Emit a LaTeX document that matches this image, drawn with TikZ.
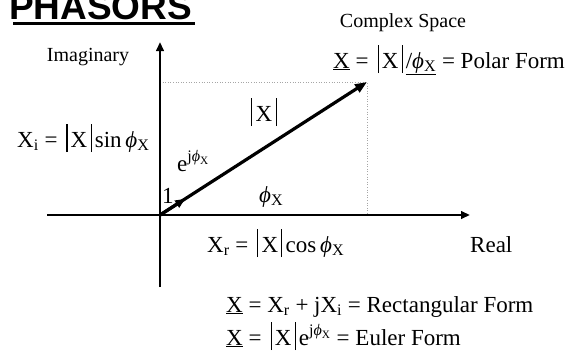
\documentclass[tikz,border=0pt]{standalone}
\usepackage{fontspec}
\setmainfont{Liberation Serif}
\newfontfamily\titlefont{Liberation Sans}
\usetikzlibrary{arrows.meta,calc}
\newcommand{\vb}{\kern0.14em\rule[-0.22em]{0.045em}{1.2em}\kern0.14em}
\newcommand{\absX}{\vb X\vb}
\newcommand{\phiX}{\textit{ϕ}\textsubscript{X}}
\newcommand{\ejphi}{e\textsuperscript{j\textit{ϕ}\textsubscript{X}}}
\newcommand{\eqs}{\ =\ }
\begin{document}
\begin{tikzpicture}[x=1pt,y=-1pt,
  lbl/.style={inner sep=0pt, font=\fontsize{20}{24}\selectfont},
  eqn/.style={inner sep=0pt, font=\fontsize{23}{27}\selectfont},
  axis/.style={line width=2.2pt, -{Triangle[length=9pt,width=7.5pt]}},
  phasor/.style={line width=3.2pt, -{Triangle[length=12pt,width=9pt]}},
  proj/.style={gray!70, line width=0.6pt, dotted}]
\useasboundingbox (0,0) rectangle (575,354);
% title
\node[inner sep=0pt, anchor=base west, font=\titlefont\bfseries\fontsize{37}{40}\selectfont] (title) at (9,19) {PHASORS};
\coordinate (ulL) at (13,23.5);
\coordinate (ulR) at (195,23.5);
\draw[line width=3pt] (ulL) -- (ulR);
% geometry
\coordinate (O) at (160,215);
\coordinate (P) at (367,82);
\coordinate (Pi) at (160,82);
\coordinate (Pr) at (367,215);
\coordinate (yB) at (160,287);
\coordinate (yT) at (160,42);
\coordinate (xL) at (47,215);
\coordinate (xR) at (470,215);
\draw[proj] (Pi) -- (P) -- (Pr);
\draw[axis] (yB) -- (yT);
\draw[axis] (xL) -- (xR);
\draw[phasor] (O) -- (P);
\draw[line width=3.2pt, -{Triangle[length=10pt,width=8pt]}] (O) -- ($(O)!30pt!(P)$);
% labels
\node[lbl, anchor=base] (imag) at (88,61) {Imaginary};
\node[lbl, anchor=base] (cs) at (403,27) {Complex Space};
\node[eqn, anchor=base west] (polar) at (333,68) {\underline{X}\eqs\absX\underline{/\phiX}\eqs Polar Form};
\node[eqn, anchor=base] (mag) at (264,121) {\absX};
\node[eqn, anchor=base west] (ej) at (177,171) {\ejphi};
\node[eqn, anchor=base west] (one) at (162,203) {1};
\node[eqn, anchor=base west] (ang) at (259,202) {\phiX};
\node[eqn, anchor=base west] (xi) at (17,147) {X\textsubscript{i}\eqs\absX sin\,\phiX};
\node[eqn, anchor=base west] (xr) at (207,252) {X\textsubscript{r}\eqs\absX cos\,\phiX};
\node[eqn, anchor=base west] (real) at (470,252) {Real};
\node[eqn, anchor=base west] (rect) at (226,312) {\underline{X}\eqs X\textsubscript{r} + jX\textsubscript{i}\eqs Rectangular Form};
\node[eqn, anchor=base west] (euler) at (226,345) {\underline{X}\eqs\absX\ejphi\eqs Euler Form};
\end{tikzpicture}
\end{document}
